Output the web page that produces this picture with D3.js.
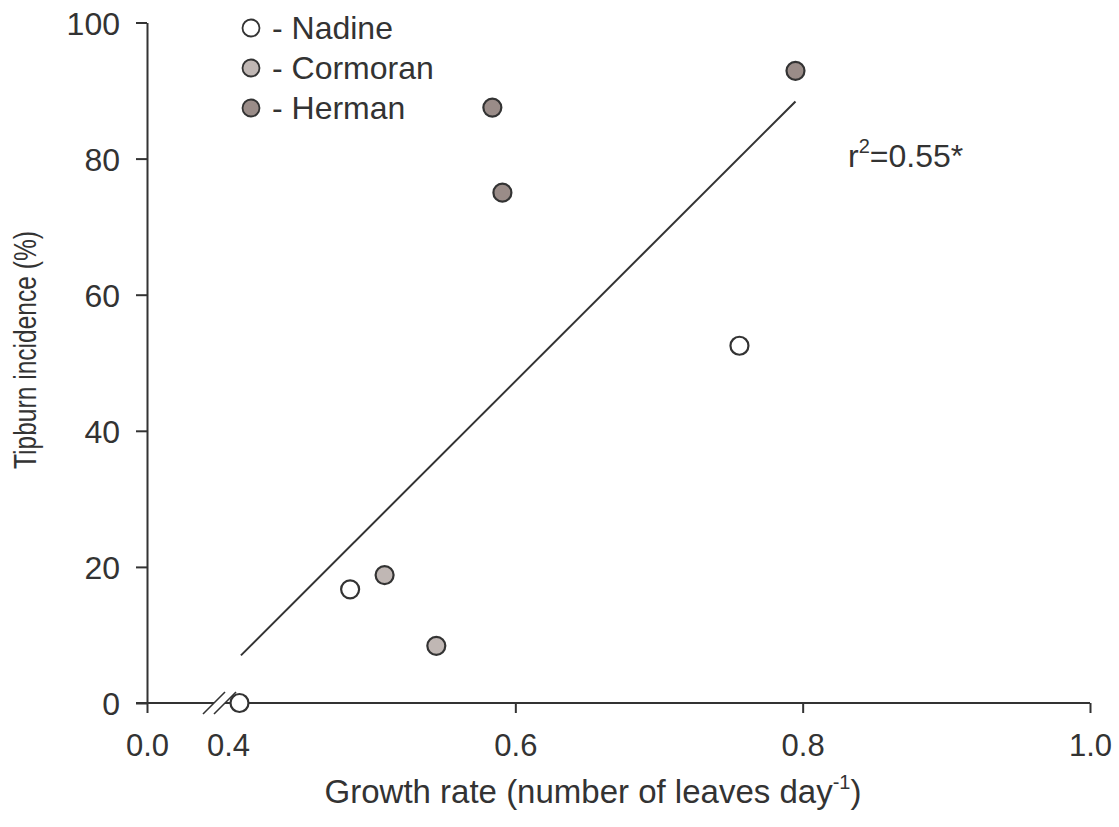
<!DOCTYPE html>
<html>
<head>
<meta charset="utf-8">
<script src="https://cdn.jsdelivr.net/npm/d3@7"></script>
<style>
  html, body { margin: 0; padding: 0; background: #fff; }
  svg { display: block; font-family: "Liberation Sans", Arial, sans-serif; }
</style>
</head>
<body>
<svg id="chart" width="1119" height="827"></svg>
<script>
// Cultivars and their fill colours
const cultivars = ["Nadine", "Cormoran", "Herman"];
const cultivarFill = ["#ffffff", "#c0b7b4", "#9a8c88"];

// Growth rate (leaves per day) and tipburn incidence (%) per observation
const nadineRate = [0.408, 0.485, 0.756];
const nadineTipburn = [0.0, 16.7, 52.5];
const cormoranRate = [0.509, 0.545];
const cormoranTipburn = [18.8, 8.4];
const hermanRate = [0.584, 0.591, 0.795];
const hermanTipburn = [87.5, 75.0, 92.9];

// Fitted regression line end points
const fitRate = [0.409, 0.795];
const fitTipburn = [7.0, 88.4];

// Axis ticks
const xTicks = [0.0, 0.4, 0.6, 0.8, 1.0];
const yTicks = [0, 20, 40, 60, 80, 100];

const ink = "#333333";
const svg = d3.select("#chart");

// Broken x axis: 0.0 sits at the y axis, the scale resumes at 0.4
const x = d3.scaleLinear().domain([0.0, 0.4, 1.0]).range([147, 228, 1090]);
const y = d3.scaleLinear().domain([0, 100]).range([703, 22.5]);

// Y axis
const yAxis = svg.append("g")
  .attr("transform", `translate(${x(0)},0)`)
  .call(d3.axisLeft(y).tickValues(yTicks).tickSize(11).tickSizeOuter(0).tickPadding(16));
yAxis.select(".domain").attr("stroke", ink).attr("stroke-width", 2);
yAxis.selectAll(".tick line").attr("stroke", ink).attr("stroke-width", 2);
yAxis.selectAll(".tick text")
  .attr("fill", ink).style("font-size", "32px")
  .attr("dy", "0.36em");

// X axis (ticks and labels; the baseline is drawn with a break below)
const xAxis = svg.append("g")
  .attr("transform", `translate(0,${y(0)})`)
  .call(d3.axisBottom(x).tickValues(xTicks).tickSize(10).tickSizeOuter(0).tickPadding(14)
    .tickFormat(d3.format(".1f")));
xAxis.select(".domain").remove();
xAxis.selectAll(".tick line").attr("stroke", ink).attr("stroke-width", 2)
  .attr("display", d => d === 0.4 ? "none" : null);
xAxis.selectAll(".tick text").attr("fill", ink).style("font-size", "31px").attr("dy", "0.95em");

// Baseline with a double-slash break before 0.4
const y0 = y(0);
const breakL = x(0.4) - 14, breakR = x(0.4) - 3;
svg.append("line").attr("x1", x(0) - 11).attr("x2", breakL).attr("y1", y0).attr("y2", y0)
  .attr("stroke", ink).attr("stroke-width", 2);
svg.append("line").attr("x1", breakR).attr("x2", x(1.0)).attr("y1", y0).attr("y2", y0)
  .attr("stroke", ink).attr("stroke-width", 2);
[breakL, breakR].forEach(bx => {
  svg.append("line")
    .attr("x1", bx - 11).attr("y1", y0 + 11)
    .attr("x2", bx + 11).attr("y2", y0 - 11)
    .attr("stroke", ink).attr("stroke-width", 1.6);
});

// Regression line
svg.append("path")
  .datum(fitRate.map((r, i) => [r, fitTipburn[i]]))
  .attr("d", d3.line().x(d => x(d[0])).y(d => y(d[1])))
  .attr("fill", "none").attr("stroke", ink).attr("stroke-width", 2);

// Data points
const groups = [
  { rate: nadineRate, tip: nadineTipburn, fill: cultivarFill[0] },
  { rate: cormoranRate, tip: cormoranTipburn, fill: cultivarFill[1] },
  { rate: hermanRate, tip: hermanTipburn, fill: cultivarFill[2] }
];
groups.forEach(g => {
  svg.append("g").selectAll("circle")
    .data(g.rate.map((r, i) => [r, g.tip[i]]))
    .join("circle")
    .attr("cx", d => x(d[0])).attr("cy", d => y(d[1]))
    .attr("r", 9)
    .attr("fill", g.fill).attr("stroke", ink).attr("stroke-width", 2.2);
});

// Legend
const legend = svg.append("g").attr("transform", "translate(251,28)");
cultivars.forEach((name, i) => {
  const row = legend.append("g").attr("transform", `translate(0,${i * 40})`);
  row.append("circle").attr("r", 8.5).attr("fill", cultivarFill[i])
    .attr("stroke", ink).attr("stroke-width", 1.8);
  row.append("text").attr("x", 21).attr("y", 11)
    .attr("fill", ink).style("font-size", "32px").text("- " + name);
});

// Coefficient of determination
const r2 = svg.append("text").attr("x", 848).attr("y", 167)
  .attr("fill", ink).style("font-size", "32px");
r2.append("tspan").text("r");
r2.append("tspan").attr("dy", -14).style("font-size", "20px").text("2");
r2.append("tspan").attr("dy", 14).text("=0.55*");

// Axis titles
const xTitle = svg.append("text").attr("x", 593).attr("y", 803)
  .attr("text-anchor", "middle").attr("fill", ink).style("font-size", "33px");
xTitle.append("tspan").text("Growth rate (number of leaves day");
xTitle.append("tspan").attr("dy", -14).style("font-size", "20px").text("-1");
xTitle.append("tspan").attr("dy", 14).text(")");

svg.append("text")
  .attr("transform", "translate(36,350) rotate(-90)")
  .attr("text-anchor", "middle").attr("fill", ink)
  .attr("textLength", 238).attr("lengthAdjust", "spacingAndGlyphs")
  .style("font-size", "31px")
  .text("Tipburn incidence (%)");
</script>
</body>
</html>
